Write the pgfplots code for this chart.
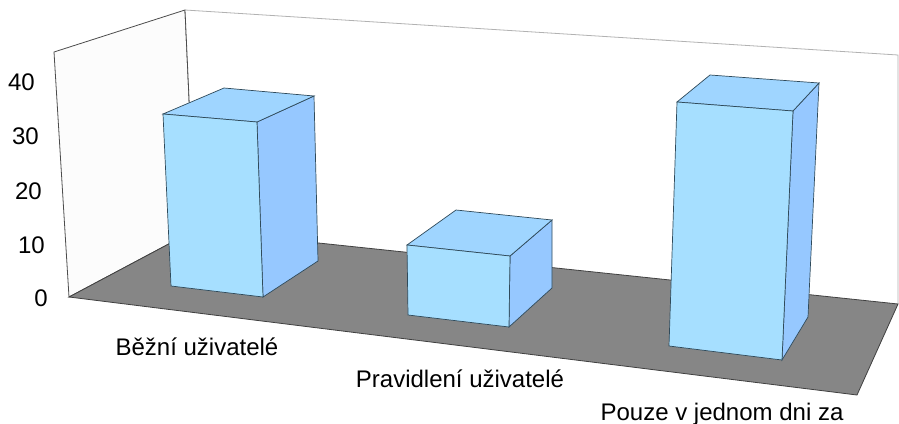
\documentclass[border=0pt]{standalone}
\usepackage{pgfplots}
\pgfplotsset{compat=1.18}
\usepackage{fontspec}
\setmainfont{Liberation Sans}
\definecolor{front}{HTML}{A6DFFF}
\definecolor{topc}{HTML}{9FD5FF}
\definecolor{sidec}{HTML}{96C8FF}
\definecolor{floorc}{HTML}{868686}
\definecolor{edge}{HTML}{2F4A5A}
\tikzset{lab/.style={font=\fontsize{24pt}{27pt}\selectfont, text=black, inner sep=0pt}}
\begin{document}
\begin{tikzpicture}
\begin{axis}[
  scale only axis, width=899pt, height=423pt,
  xmin=0, xmax=899, ymin=0, ymax=423, y dir=reverse,
  hide axis, clip=true,
]
% walls
\addplot[fill=white, draw=none] coordinates {(0,0)(899,0)(899,423)(0,423)} --cycle;
\addplot[fill=black!1, draw=black!70, line width=0.8pt] coordinates {(54,52)(185,10)(195,230)(69,297)} --cycle;
\addplot[fill=white, draw=none] coordinates {(185,10)(898,55)(898,304)(195,230)} --cycle;
\addplot[draw=black!30, line width=0.8pt] coordinates {(185,10)(898,55)(898,304)};
\addplot[draw=black!70, line width=0.8pt] coordinates {(185,10)(195,230)};
% floor
\addplot[fill=floorc, draw=black!75, line width=0.8pt] coordinates {(69,297)(195,230)(898,304)(857,395)} --cycle;
% bar 1
\addplot[fill=sidec, draw=edge, line width=0.7pt] coordinates {(257,122)(314,96)(318,261)(263,297)} --cycle;
\addplot[fill=topc, draw=edge, line width=0.7pt] coordinates {(163,114)(224,88)(314,96)(257,122)} --cycle;
\addplot[fill=front, draw=edge, line width=0.7pt] coordinates {(163,114)(257,122)(263,297)(171,286)} --cycle;
% bar 2
\addplot[fill=sidec, draw=edge, line width=0.7pt] coordinates {(510,256)(552,220)(552,288)(509,327)} --cycle;
\addplot[fill=topc, draw=edge, line width=0.7pt] coordinates {(407,245)(456,210)(552,220)(510,256)} --cycle;
\addplot[fill=front, draw=edge, line width=0.7pt] coordinates {(407,245)(510,256)(509,327)(408,315)} --cycle;
% bar 3
\addplot[fill=sidec, draw=edge, line width=0.7pt] coordinates {(793,111)(819,83)(808,317)(782,360)} --cycle;
\addplot[fill=topc, draw=edge, line width=0.7pt] coordinates {(677,102)(710,75)(819,83)(793,111)} --cycle;
\addplot[fill=front, draw=edge, line width=0.7pt] coordinates {(677,102)(793,111)(782,360)(669,346)} --cycle;
% labels
\node[lab,anchor=east] at (axis cs:35,82) {40};
\node[lab,anchor=east] at (axis cs:39,136) {30};
\node[lab,anchor=east] at (axis cs:42,191) {20};
\node[lab,anchor=east] at (axis cs:45,245) {10};
\node[lab,anchor=east] at (axis cs:48,298) {0};
\node[lab,anchor=base] at (axis cs:197,355) {Běžní uživatelé};
\node[lab,anchor=base] at (axis cs:460,387) {Pravidlení uživatelé};
\node[lab,anchor=base, overlay] at (axis cs:722,420) {Pouze v jednom dni za};
\end{axis}
\end{tikzpicture}
\end{document}
